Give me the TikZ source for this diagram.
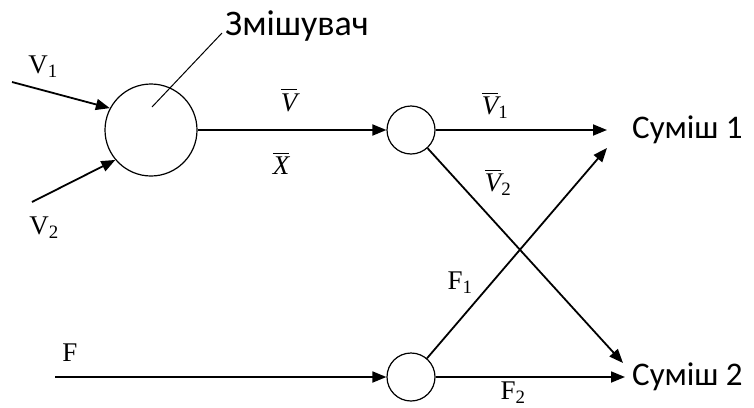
\documentclass[tikz,border=0pt]{standalone}
\usepackage{amsmath}
\usepackage{fontspec}
\setmainfont{Liberation Serif}
\newfontfamily\uafont{Carlito}
\usepackage{tikz}
\usetikzlibrary{arrows.meta}
\tikzset{
  tank/.style={circle, draw, line width=1.2pt, minimum size=92pt, inner sep=0pt},
  splitter/.style={tank, minimum size=48pt},
  flow/.style={-{Triangle[length=14pt,width=11pt]}, line width=1.8pt},
  leader/.style={line width=1pt},
  lbl/.style={font=\fontsize{27}{29}\selectfont, inner sep=0pt},
  mixlbl/.style={font=\uafont\fontsize{33}{35}\selectfont, inner sep=0pt, anchor=west}
}
\begin{document}
\begin{tikzpicture}[x=1pt,y=-1pt]
    \useasboundingbox (0,0) rectangle (754,407);
    % mixer and the two splitters
    \node[tank] (mixer) at (151,130) {};
    \node[splitter] (split) at (411,130) {};
    \node[splitter] (splitF) at (411,377) {};
    \node[mixlbl, font=\uafont\fontsize{36}{38}\selectfont] (mixname) at (225,26) {Змішувач};
    \node[mixlbl] (mix1) at (632,130) {Суміш 1};
    \node[mixlbl] (mix2) at (632,377) {Суміш 2};
    \coordinate (v1in) at (12,82);
    \coordinate (v2in) at (32,202);
    \coordinate (fin) at (55,377);
    % flows
    \draw[flow] (v1in) -- (mixer.152);
    \draw[flow] (v2in) -- (mixer.220);
    \draw[flow] (mixer) -- (split);
    \draw[flow] (split) -- ([xshift=-25pt]mix1.west);
    \draw[flow] (split) -- ([shift={(-9pt,14pt)}]mix2.west);
    \draw[flow] (fin) -- (splitF);
    \draw[flow] (splitF) -- ([xshift=-7pt]mix2.west);
    \draw[flow] (splitF) -- ([shift={(-25pt,-18pt)}]mix1.west);
    \draw[leader] ([shift={(1pt,23pt)}]mixer.center) -- ([shift={(-3pt,-7pt)}]mixname.west);
    % labels
    \node[lbl] (lv1) at (43,67) {V\textsubscript{1}};
    \node[lbl] (lv2) at (44,228) {V\textsubscript{2}};
    \node[lbl] (lvbar) at (289,100) {$\overline{\textit{V}}$};
    \node[lbl] (lxbar) at (281,163) {$\overline{\textit{X}}$};
    \node[lbl] (lv1bar) at (495,105) {$\overline{\textit{V}}_{\text{1}}$};
    \node[lbl] (lv2bar) at (498,182) {$\overline{\textit{V}}_{\text{2}}$};
    \node[lbl] (lf) at (70,353) {F};
    \node[lbl] (lf1) at (460,283) {F\textsubscript{1}};
    \node[lbl] (lf2) at (513,393) {F\textsubscript{2}};
\end{tikzpicture}
\end{document}
